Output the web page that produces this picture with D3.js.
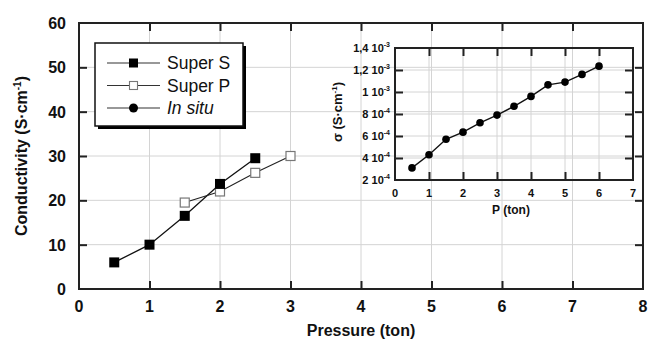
<!DOCTYPE html>
<html>
<head>
<meta charset="utf-8">
<script src="https://cdn.jsdelivr.net/npm/d3@7"></script>
<style>
  body { margin: 0; background: #fff; }
  svg { display: block; font-family: "Liberation Sans", Arial, sans-serif; }
</style>
</head>
<body>
<svg id="chart" width="650" height="346"></svg>
<script>
// main chart data
const superSX = [0.5, 1, 1.5, 2, 2.5];
const superSY = [6, 10, 16.5, 23.7, 29.5];
const superPX = [1.5, 2, 2.5, 3];
const superPY = [19.5, 22, 26.2, 30];
const mainXTicks = [0, 1, 2, 3, 4, 5, 6, 7, 8];
const mainYTicks = [0, 10, 20, 30, 40, 50, 60];

// inset data (in situ)
const inSituX = [0.5, 1, 1.5, 2, 2.5, 3, 3.5, 4, 4.5, 5, 5.5, 6];
const inSituY = [3.1e-4, 4.3e-4, 5.7e-4, 6.35e-4, 7.2e-4, 7.9e-4, 8.7e-4, 9.6e-4, 1.065e-3, 1.09e-3, 1.16e-3, 1.235e-3];
const insetXTicks = [0, 1, 2, 3, 4, 5, 6, 7];
const insetYTicks = [2e-4, 4e-4, 6e-4, 8e-4, 1e-3, 1.2e-3, 1.4e-3];
const insetYLabels = [["2", "-4"], ["4", "-4"], ["6", "-4"], ["8", "-4"], ["1", "-3"], ["1,2", "-3"], ["1,4", "-3"]];

const legendNames = ["Super S", "Super P", "In situ"];

const svg = d3.select("#chart");

function framedAxes(g, x, y, xt, yt, tick, w) {
  const [x0, x1] = x.range();
  const [y0, y1] = y.range();
  // grid
  g.append("g").selectAll("line").data(xt.slice(1, -1)).join("line")
    .attr("x1", d => x(d)).attr("x2", d => x(d))
    .attr("y1", y0).attr("y2", y1)
    .attr("stroke", "#d4d4d4").attr("stroke-width", 1);
  g.append("g").selectAll("line").data(yt.slice(1, -1)).join("line")
    .attr("x1", x0).attr("x2", x1)
    .attr("y1", d => y(d)).attr("y2", d => y(d))
    .attr("stroke", "#d4d4d4").attr("stroke-width", 1);
  // inward ticks on all four sides
  const ax = [
    d3.axisBottom(x).tickValues(xt.slice(1, -1)).tickSize(-tick).tickFormat(""),
    d3.axisTop(x).tickValues(xt.slice(1, -1)).tickSize(-tick).tickFormat(""),
    d3.axisLeft(y).tickValues(yt.slice(1, -1)).tickSize(-tick).tickFormat(""),
    d3.axisRight(y).tickValues(yt.slice(1, -1)).tickSize(-tick).tickFormat("")
  ];
  const tr = ["translate(0," + y0 + ")", "translate(0," + y1 + ")", "translate(" + x0 + ",0)", "translate(" + x1 + ",0)"];
  ax.forEach((a, i) => {
    const s = g.append("g").attr("transform", tr[i]).call(a);
    s.select(".domain").remove();
    s.selectAll("line").attr("stroke", "#222").attr("stroke-width", w);
  });
  g.append("rect")
    .attr("x", x0).attr("y", y1)
    .attr("width", x1 - x0).attr("height", y0 - y1)
    .attr("fill", "none").attr("stroke", "#222").attr("stroke-width", w);
}

// ---------- main chart ----------
const x = d3.scaleLinear().domain([0, 8]).range([79, 643]);
const y = d3.scaleLinear().domain([0, 60]).range([289, 23]);
const main = svg.append("g");
framedAxes(main, x, y, mainXTicks, mainYTicks, 8, 2);

main.append("g").selectAll("text").data(mainXTicks).join("text")
  .attr("x", d => x(d)).attr("y", 312)
  .attr("text-anchor", "middle")
  .attr("font-size", 16).attr("font-weight", "bold").attr("fill", "#111")
  .text(d => d);
main.append("g").selectAll("text").data(mainYTicks).join("text")
  .attr("x", 66).attr("y", d => y(d) + 6)
  .attr("text-anchor", "end")
  .attr("font-size", 16).attr("font-weight", "bold").attr("fill", "#111")
  .text(d => d);

main.append("text")
  .attr("x", 361).attr("y", 336)
  .attr("text-anchor", "middle")
  .attr("font-size", 16).attr("font-weight", "bold").attr("fill", "#111")
  .text("Pressure (ton)");

const yt = main.append("text")
  .attr("transform", "translate(27,156) rotate(-90)")
  .attr("text-anchor", "middle")
  .attr("font-size", 16).attr("font-weight", "bold").attr("fill", "#111");
yt.append("tspan").text("Conductivity (S·cm");
yt.append("tspan").attr("dy", -6).attr("font-size", 10).text("-1");
yt.append("tspan").attr("dy", 6).text(")");

const line = d3.line().x(d => x(d[0])).y(d => y(d[1]));
const superS = d3.zip(superSX, superSY);
const superP = d3.zip(superPX, superPY);

main.append("path").datum(superS).attr("d", line)
  .attr("fill", "none").attr("stroke", "#111").attr("stroke-width", 1.3);
main.append("path").datum(superP).attr("d", line)
  .attr("fill", "none").attr("stroke", "#222").attr("stroke-width", 1.1);
main.append("g").selectAll("rect").data(superP).join("rect")
  .attr("x", d => x(d[0]) - 4.5).attr("y", d => y(d[1]) - 4.5)
  .attr("width", 9).attr("height", 9)
  .attr("fill", "#fff").attr("stroke", "#777").attr("stroke-width", 1.2);
main.append("g").selectAll("rect").data(superS).join("rect")
  .attr("x", d => x(d[0]) - 5).attr("y", d => y(d[1]) - 5)
  .attr("width", 10).attr("height", 10)
  .attr("fill", "#000");

// ---------- legend ----------
const lg = main.append("g");
lg.append("rect").attr("x", 98).attr("y", 46).attr("width", 148).attr("height", 83).attr("fill", "#000");
lg.append("rect").attr("x", 95).attr("y", 43).attr("width", 148).attr("height", 83)
  .attr("fill", "#fff").attr("stroke", "#111").attr("stroke-width", 1.5);
legendNames.forEach((n, i) => {
  const ly = 63 + i * 22.5;
  lg.append("line").attr("x1", 107).attr("x2", 160).attr("y1", ly).attr("y2", ly)
    .attr("stroke", "#333").attr("stroke-width", 1.2);
  if (i === 0) {
    lg.append("rect").attr("x", 129).attr("y", ly - 4.5).attr("width", 9).attr("height", 9).attr("fill", "#000");
  } else if (i === 1) {
    lg.append("rect").attr("x", 129.5).attr("y", ly - 4).attr("width", 8).attr("height", 8)
      .attr("fill", "#fff").attr("stroke", "#777").attr("stroke-width", 1.1);
  } else {
    lg.append("circle").attr("cx", 133.5).attr("cy", ly).attr("r", 4.5).attr("fill", "#000");
  }
  lg.append("text").attr("x", 167).attr("y", ly + 6)
    .attr("font-size", 17.5).attr("fill", "#111")
    .attr("font-style", i === 2 ? "italic" : "normal")
    .text(n);
});

// ---------- inset ----------
const ix = d3.scaleLinear().domain([0, 7]).range([395, 633]);
const iy = d3.scaleLinear().domain([2e-4, 1.4e-3]).range([180, 48]);
const inset = svg.append("g");
framedAxes(inset, ix, iy, insetXTicks, insetYTicks, 8, 2);

inset.append("g").selectAll("text").data(insetXTicks).join("text")
  .attr("x", d => ix(d)).attr("y", 197)
  .attr("text-anchor", "middle")
  .attr("font-size", 11).attr("font-weight", "bold").attr("fill", "#111")
  .text(d => d);

const iyl = inset.append("g").selectAll("text").data(d3.zip(insetYTicks, insetYLabels)).join("text")
  .attr("x", 390).attr("y", d => iy(d[0]) + 4)
  .attr("text-anchor", "end")
  .attr("font-size", 11).attr("font-weight", "bold").attr("fill", "#111");
iyl.append("tspan").text(d => d[1][0] + " 10");
iyl.append("tspan").attr("dy", -5).attr("font-size", 7).text(d => d[1][1]);

inset.append("text")
  .attr("x", 511).attr("y", 214)
  .attr("text-anchor", "middle")
  .attr("font-size", 12).attr("font-weight", "bold").attr("fill", "#111")
  .text("P (ton)");

const iyt = inset.append("text")
  .attr("transform", "translate(342,112) rotate(-90)")
  .attr("text-anchor", "middle")
  .attr("font-size", 13).attr("font-weight", "bold").attr("fill", "#111");
iyt.append("tspan").text("σ  (S·cm");
iyt.append("tspan").attr("dy", -5).attr("font-size", 8).text("-1");
iyt.append("tspan").attr("dy", 5).text(")");

const inSitu = d3.zip(inSituX, inSituY);
const iline = d3.line().x(d => ix(d[0])).y(d => iy(d[1]));
inset.append("path").datum(inSitu).attr("d", iline)
  .attr("fill", "none").attr("stroke", "#111").attr("stroke-width", 1.4);
inset.append("g").selectAll("circle").data(inSitu).join("circle")
  .attr("cx", d => ix(d[0])).attr("cy", d => iy(d[1])).attr("r", 3.8)
  .attr("fill", "#000");
</script>
</body>
</html>
